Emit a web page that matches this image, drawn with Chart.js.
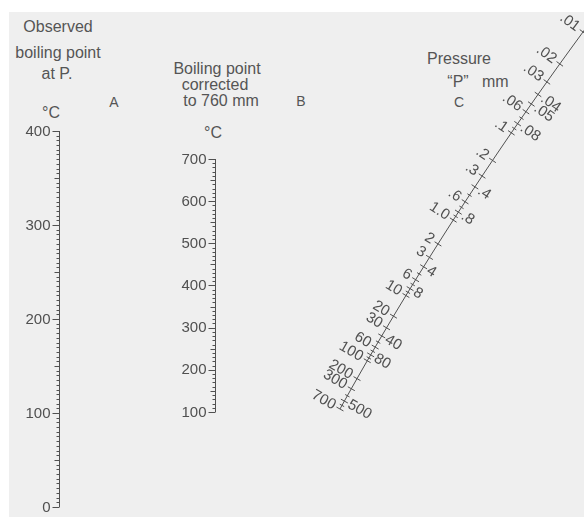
<!DOCTYPE html>
<html><head><meta charset="utf-8">
<script src="https://cdn.jsdelivr.net/npm/chart.js@4.4.1/dist/chart.umd.min.js"></script>
<style>
html,body{margin:0;padding:0;background:#fff;}
#wrap{position:relative;width:584px;height:517px;overflow:hidden;background:#fff;}
#paper{position:absolute;left:9px;top:12px;right:0;bottom:0;background:#efefef;}
#c{position:absolute;left:0;top:0;}
.lbl{position:absolute;font-family:"Liberation Sans",Arial,Helvetica,sans-serif;font-size:16px;line-height:16px;color:#555;white-space:nowrap;transform:translateX(-50%);}
.sm{font-size:14px;line-height:14px;}
</style></head>
<body><div id="wrap"><div id="paper"></div>
<div class="lbl" style="left:58px;top:18.5px">Observed</div>
<div class="lbl" style="left:58px;top:44.5px">boiling point</div>
<div class="lbl" style="left:57px;top:65.5px">at P.</div>
<div class="lbl" style="left:51px;top:104.5px">°C</div>
<div class="lbl sm" style="left:114px;top:95px">A</div>
<div class="lbl" style="left:217px;top:60.5px">Boiling point</div>
<div class="lbl" style="left:215px;top:76.5px">corrected</div>
<div class="lbl" style="left:221px;top:92.5px">to 760 mm</div>
<div class="lbl" style="left:213px;top:124.5px">°C</div>
<div class="lbl sm" style="left:301px;top:94px">B</div>
<div class="lbl" style="left:459px;top:50.5px">Pressure</div>
<div class="lbl" style="left:478px;top:73.5px">“P”&nbsp;&nbsp; mm</div>
<div class="lbl sm" style="left:459px;top:95px">C</div>
<canvas id="c" width="584" height="517"></canvas></div>
<script>
// ---- data ----
const observedRange = [0, 400];          // scale A, °C
const observedMajor = [0, 100, 200, 300, 400];
const observedMinorStep = 5;
const observedMediumStep = 50;

const correctedRange = [100, 700];       // scale B, °C
const correctedMajor = [100, 200, 300, 400, 500, 600, 700];
const correctedMinorStep = 10;
const correctedMediumStep = 50;

const pressureLabels = ['.01','.02','.03','.04','.05','.06','.08','.1','.2','.3','.4','.6','.8','1.0','2','3','4','6','8','10','20','30','40','60','80','100','200','300','500','700'];
const pressureValues = [0.01,0.02,0.03,0.04,0.05,0.06,0.08,0.1,0.2,0.3,0.4,0.6,0.8,1,2,3,4,6,8,10,20,30,40,60,80,100,200,300,500,700];
const pressureLabelSide = ['L','L','L','R','R','L','R','L','L','L','R','L','R','L','L','L','R','L','R','L','L','L','R','L','R','L','L','L','R','L'];
const pressureMinor = [0.01,0.02,0.03,0.04,0.05,0.06,0.07,0.08,0.09,0.1,0.2,0.3,0.4,0.5,0.6,0.7,0.8,0.9,1,2,3,4,5,6,7,8,9,10,20,30,40,50,60,70,80,90,100,200,300,400,500,600,700];

// ---- layout helpers ----
const H = 517;
const K = 0.145;
const warp = p => -Math.exp(-K * Math.log10(p)) / K;   // pressure -> nomograph unit
function spanDown(v0, p0, v1, p1) { // normal y axis: v0 at pixel p0 (lower), v1 at pixel p1
  const upp = (v1 - v0) / (p0 - p1);
  const max = v1 + p1 * upp;
  return { min: max - H * upp, max };
}
function spanRev(v0, p0, v1, p1) { // reversed axis: v0 at p0 (top)
  const upp = (v1 - v0) / (p1 - p0);
  const min = v0 - p0 * upp;
  return { min, max: min + H * upp };
}
const sA = spanDown(0, 507, 400, 131);
const sB = spanDown(100, 412, 700, 159);
const sC = spanRev(warp(0.01), 32, warp(700), 409);
const axisAX = 59.5, axisBX = 215.5;
const curveX = y => 606.77 - 0.7505 * y + 0.00024 * y * y;
const curveSlope = y => -0.7505 + 0.00048 * y;

const nomoPlugin = {
  id: 'nomo',
  afterDraw(chart) {
    const ctx = chart.ctx, xs = chart.scales.x;
    ctx.save();
    ctx.strokeStyle = '#505050';
    ctx.fillStyle = '#505050';
    ctx.lineWidth = 1;
    const font = '15px "Liberation Sans", Arial, Helvetica, sans-serif';

    function vAxis(scale, xVal, range, majors, minorStep, medStep) {
      const X = xs.getPixelForValue(xVal);
      const yTop = scale.getPixelForValue(range[1]), yBot = scale.getPixelForValue(range[0]);
      ctx.beginPath(); ctx.moveTo(X, yTop); ctx.lineTo(X, yBot); ctx.stroke();
      for (let v = range[0]; v <= range[1] + 1e-9; v += minorStep) {
        const len = majors.includes(v) ? 7 : (v % medStep === 0 ? 5 : 3);
        const y = Math.round(scale.getPixelForValue(v)) + 0.5;
        ctx.beginPath(); ctx.moveTo(X - len, y); ctx.lineTo(X, y); ctx.stroke();
      }
      ctx.font = font; ctx.textAlign = 'right'; ctx.textBaseline = 'middle';
      majors.forEach(v => ctx.fillText(String(v), X - 9, scale.getPixelForValue(v) + 0.5));
    }
    vAxis(chart.scales.a, axisAX, observedRange, observedMajor, observedMinorStep, observedMediumStep);
    vAxis(chart.scales.b, axisBX, correctedRange, correctedMajor, correctedMinorStep, correctedMediumStep);

    // pressure scale C (curved line)
    const yc = chart.scales.c;
    const y0 = yc.getPixelForValue(warp(pressureMinor[0])) - 4;
    const y1 = yc.getPixelForValue(warp(pressureMinor[pressureMinor.length - 1]));
    ctx.beginPath();
    for (let y = y0; y <= y1; y += 1) {
      const x = xs.getPixelForValue(curveX(y));
      if (y === y0) ctx.moveTo(x, y); else ctx.lineTo(x, y);
    }
    ctx.lineTo(xs.getPixelForValue(curveX(y1)), y1);
    ctx.stroke();
    const normalAt = y => { const s = curveSlope(y); const n = Math.hypot(1, s); return [1 / n, -s / n]; };
    pressureMinor.forEach(p => {
      const y = yc.getPixelForValue(warp(p));
      const x = xs.getPixelForValue(curveX(y));
      const [nx, ny] = normalAt(y);
      const h = pressureValues.includes(p) ? 4 : 2.5;
      ctx.beginPath(); ctx.moveTo(x - nx * h, y - ny * h); ctx.lineTo(x + nx * h, y + ny * h); ctx.stroke();
    });
    ctx.font = '15px "Liberation Sans", Arial, Helvetica, sans-serif';
    ctx.textBaseline = 'middle';
    pressureValues.forEach((p, i) => {
      const y = yc.getPixelForValue(warp(p));
      const x = xs.getPixelForValue(curveX(y));
      const [nx, ny] = normalAt(y);
      ctx.save();
      ctx.translate(x, y);
      ctx.rotate(Math.atan2(ny, nx));
      if (pressureLabelSide[i] === 'R') { ctx.textAlign = 'left'; ctx.fillText(pressureLabels[i], 5, 0); }
      else { ctx.textAlign = 'right'; ctx.fillText(pressureLabels[i], -6, 0); }
      ctx.restore();
    });
    ctx.restore();
  }
};

new Chart(document.getElementById('c'), {
  type: 'scatter',
  data: { datasets: [] },
  options: {
    responsive: false,
    animation: false,
    devicePixelRatio: 1,
    layout: { padding: 0 },
    plugins: { legend: { display: false }, tooltip: { enabled: false }, title: { display: false } },
    scales: {
      x: { type: 'linear', display: false, min: 0, max: 584 },
      a: { type: 'linear', axis: 'y', display: false, min: sA.min, max: sA.max },
      b: { type: 'linear', axis: 'y', display: false, min: sB.min, max: sB.max },
      c: { type: 'linear', axis: 'y', display: false, reverse: true, min: sC.min, max: sC.max }
    }
  },
  plugins: [nomoPlugin]
});
</script>
</body></html>
